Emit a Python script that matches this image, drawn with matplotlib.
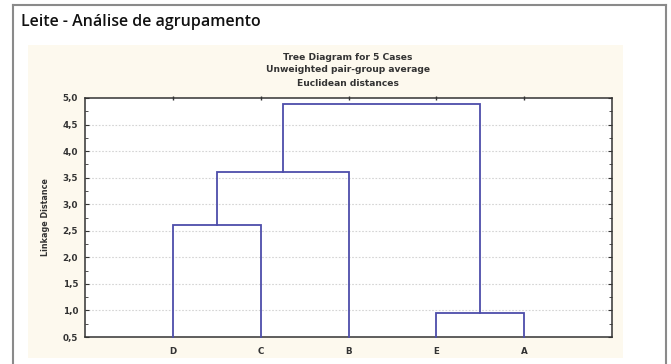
import matplotlib
matplotlib.use('Agg')
import matplotlib.pyplot as plt
from matplotlib.patches import Rectangle
from matplotlib.lines import Line2D

# leaves in dendrogram order and the joins (left, right, height), scipy style:
# ids 0..4 are leaves, 5.. are the clusters made by each join
leaves = ['D', 'C', 'B', 'E', 'A']
joins = [(0, 1, 2.6), (5, 2, 3.6), (3, 4, 0.95), (6, 7, 4.88)]
yticks = [0.5, 1.0, 1.5, 2.0, 2.5, 3.0, 3.5, 4.0, 4.5, 5.0]
ytick_labels = ['0,5', '1,0', '1,5', '2,0', '2,5', '3,0', '3,5', '4,0', '4,5', '5,0']

W, H = 671, 364
fig = plt.figure(figsize=(W / 100, H / 100), dpi=100)
fig.patch.set_facecolor('white')

def fx(px):
    return px / W

def fy(py):
    return 1 - py / H

# outer frame (open at the bottom)
edge = '#8a8a8a'
fig.add_artist(Line2D([fx(13), fx(13)], [fy(5), 0], color=edge, lw=1.5, transform=fig.transFigure))
fig.add_artist(Line2D([fx(13), fx(666)], [fy(5), fy(5)], color=edge, lw=1.5, transform=fig.transFigure))
fig.add_artist(Line2D([fx(666), fx(666)], [fy(5), 0], color=edge, lw=1.5, transform=fig.transFigure))

# cream panel behind the chart
fig.add_artist(Rectangle((fx(28), fy(358)), fx(623 - 28), (358 - 45) / H,
                         transform=fig.transFigure, facecolor='#fdf9ee', edgecolor='none', zorder=0))

fig.text(fx(21), fy(22), 'Leite - Análise de agrupamento', fontsize=11.5,
         family='Open Sans', fontweight='semibold', va='center', ha='left', color='#111111')

sub_kw = dict(fontsize=6.6, ha='center', va='center', fontweight='bold', color='#333333',
              family='DejaVu Sans')
fig.text(fx(348), fy(57), 'Tree Diagram for 5 Cases', **sub_kw)
fig.text(fx(348), fy(70), 'Unweighted pair-group average', **sub_kw)
fig.text(fx(348), fy(83), 'Euclidean distances', **sub_kw)

ax = fig.add_axes([fx(85), fy(337), fx(612 - 85), (337 - 98) / H])
ax.set_facecolor('white')

# positions and heights of every node
xpos = {i: i + 1 for i in range(len(leaves))}
ypos = {i: 0.5 for i in range(len(leaves))}
line_c = '#4d4daa'
for k, (a, b, h) in enumerate(joins):
    nid = len(leaves) + k
    ax.plot([xpos[a], xpos[a], xpos[b], xpos[b]], [ypos[a], h, h, ypos[b]],
            color=line_c, lw=1.3, solid_joinstyle='miter', zorder=3, clip_on=False)
    xpos[nid] = (xpos[a] + xpos[b]) / 2
    ypos[nid] = h

ax.set_xlim(0, 6)
ax.set_ylim(0.5, 5.0)
ax.set_xticks(range(1, len(leaves) + 1))
ax.set_xticklabels(leaves)
ax.set_yticks(yticks)
ax.set_yticklabels(ytick_labels)
ax.set_yticks([0.5 + 0.25 * i for i in range(19)], minor=True)

for y in yticks[1:-1]:
    ax.axhline(y, color='#d4d4d4', lw=0.8, ls=(0, (1.5, 1.5)), zorder=1)

ax.tick_params(axis='both', which='both', direction='in', labelsize=6.3, colors='#333333')
ax.tick_params(axis='x', which='major', length=0, pad=7, top=True)
ax.tick_params(axis='y', which='major', length=3, right=True, pad=5)
ax.tick_params(axis='y', which='minor', length=2, right=True)
ax.tick_params(axis='x', which='minor', length=0)
for lab in ax.get_xticklabels() + ax.get_yticklabels():
    lab.set_fontweight('bold')
    lab.set_family('DejaVu Sans')

# small marks on the top edge at each leaf
for i in range(1, len(leaves) + 1):
    ax.plot([i], [5.0], marker='|', ms=3, color='#333333', clip_on=False, zorder=4)

for s in ax.spines.values():
    s.set_color('#333333')
    s.set_linewidth(1.1)

fig.text(fx(45), fy(217), 'Linkage Distance', rotation=90, fontsize=5.8, fontweight='bold',
         ha='center', va='center', family='Liberation Sans Narrow', color='#333333')

fig.savefig('out.png', dpi=100)
